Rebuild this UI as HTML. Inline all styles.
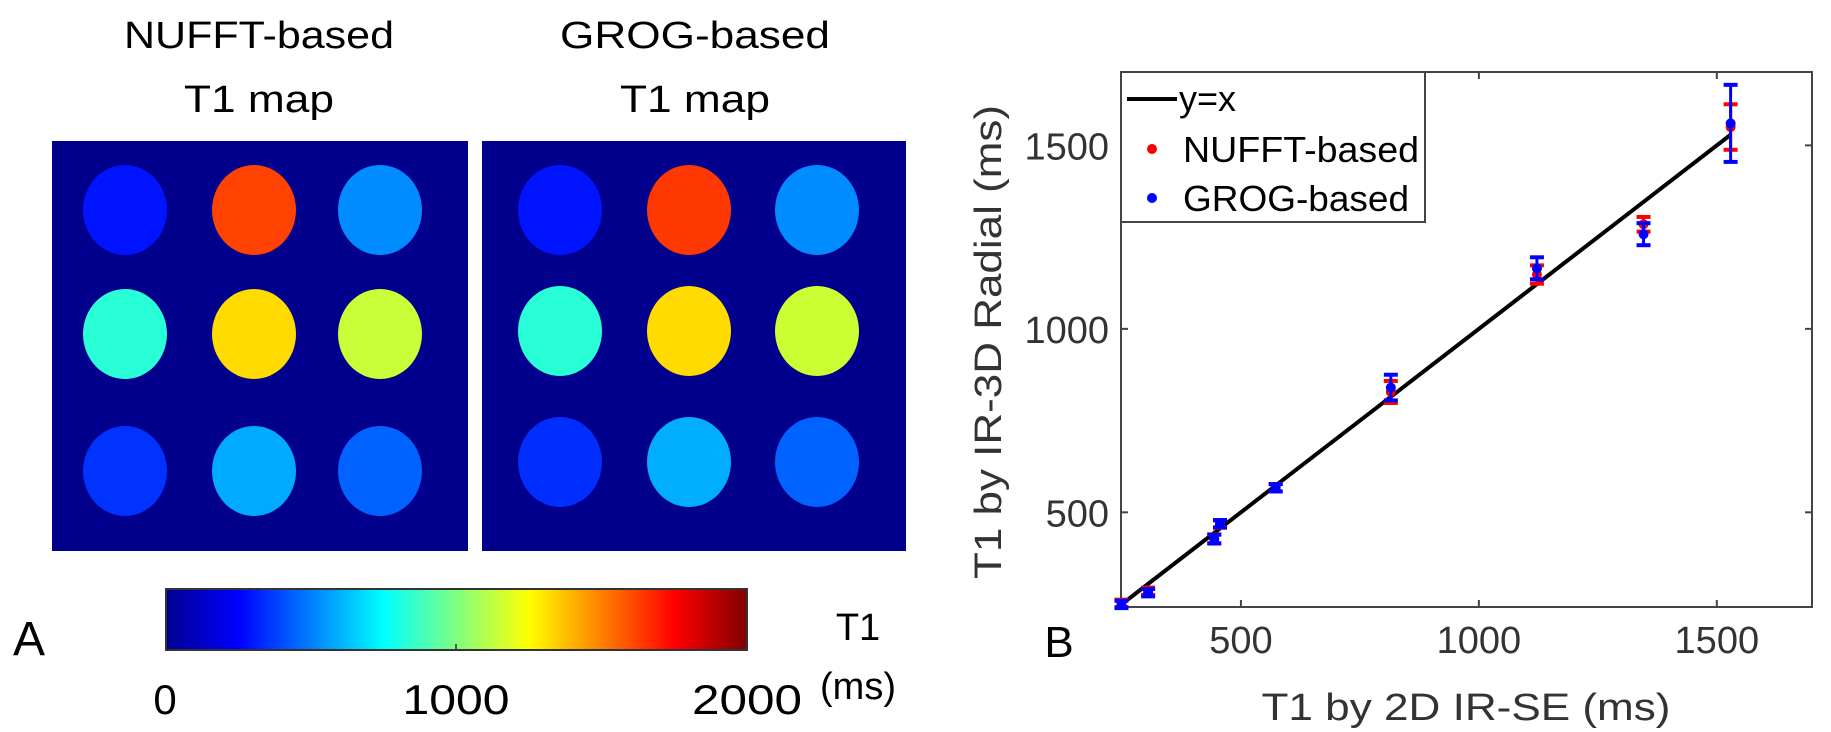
<!DOCTYPE html>
<html><head><meta charset="utf-8">
<style>
body{margin:0;background:#fff;}
svg{display:block;font-family:"Liberation Sans",sans-serif;}
</style></head>
<body>
<svg id="fig" width="1831" height="732" viewBox="0 0 1831 732">
<defs>
<linearGradient id="jet" x1="0" x2="1" y1="0" y2="0">
<stop offset="0" stop-color="#00008f"/>
<stop offset="0.125" stop-color="#0000ff"/>
<stop offset="0.375" stop-color="#00ffff"/>
<stop offset="0.625" stop-color="#ffff00"/>
<stop offset="0.875" stop-color="#ff0000"/>
<stop offset="1" stop-color="#800000"/>
</linearGradient>
</defs>
<g>
<text x="259" y="48" font-size="38" text-anchor="middle" textLength="270" lengthAdjust="spacingAndGlyphs">NUFFT-based</text>
<text x="259" y="112" font-size="38" text-anchor="middle" textLength="150" lengthAdjust="spacingAndGlyphs">T1 map</text>
<text x="695" y="48" font-size="38" text-anchor="middle" textLength="270" lengthAdjust="spacingAndGlyphs">GROG-based</text>
<text x="695" y="112" font-size="38" text-anchor="middle" textLength="150" lengthAdjust="spacingAndGlyphs">T1 map</text>
<g id="maps"></g>
<rect x="166" y="589" width="581" height="61" fill="url(#jet)" stroke="#333" stroke-width="2"/>
<line x1="456" y1="650" x2="456" y2="644" stroke="#333" stroke-width="1.5"/>
<text x="165" y="714" font-size="42" text-anchor="middle">0</text>
<text x="456" y="714" font-size="42" text-anchor="middle" textLength="107" lengthAdjust="spacingAndGlyphs">1000</text>
<text x="747" y="714" font-size="42" text-anchor="middle" textLength="110" lengthAdjust="spacingAndGlyphs">2000</text>
<text x="858" y="640" font-size="38" text-anchor="middle">T1</text>
<text x="858" y="699" font-size="38" text-anchor="middle">(ms)</text>
<text x="29" y="655" font-size="48" text-anchor="middle">A</text>
</g>
<g>
<text x="1059" y="657" font-size="44" text-anchor="middle">B</text>
<g id="plot"></g>
</g>
</svg>
<script>
const NS="http://www.w3.org/2000/svg";
function mk(tag,attrs,parent){const e=document.createElementNS(NS,tag);for(const k in attrs)e.setAttribute(k,attrs[k]);parent.appendChild(e);return e;}

// Phantom T1 maps (ms)
const nufftT1=[[290,1620,525],[830,1320,1140],[350,585,445]];
const grogT1=[[290,1640,525],[830,1320,1150],[340,590,445]];
function jet(v){const t=Math.max(0,Math.min(1,v/2000));
 const f=x=>Math.max(0,Math.min(1,x));
 const r=f(Math.min(4*t-1.5,-4*t+4.5)),g=f(Math.min(4*t-0.5,-4*t+3.5)),b=f(Math.min(4*t+0.5,-4*t+2.5));
 return `rgb(${Math.round(r*255)},${Math.round(g*255)},${Math.round(b*255)})`;}
const maps=document.getElementById('maps');
const mapDefs=[{x:52,w:416,cx:[125,254,380],cy:[210,334,471],d:nufftT1,n:'nufft'},{x:482,w:424,cx:[560,689,817],cy:[210,331,462],d:grogT1,n:'grog'}];
mapDefs.forEach(m=>{
 const g=mk('g',{},maps);
 
 
 const bg=mk('rect',{x:m.x,y:141,width:m.w,height:410,fill:'#00008c'},g);
 
 
 m.d.forEach((row,ri)=>row.forEach((v,ci)=>{
  const c=mk('ellipse',{cx:m.cx[ci],cy:m.cy[ri],rx:42,ry:45,fill:jet(v)},g);
  
  
 }));
});

// Scatter plot data
const refT1=[249,305,444,456,573,815,1122,1346,1529];
const nufftVals=[252,285,428,468,567,828,1148,1285,1550];
const grogVals=[249,281,427,469,567,840,1165,1258,1560];
const nufftErr=[10,10,12,10,10,30,25,20,62];
const grogErr=[10,10,12,10,10,35,30,30,105];
const xTicks=[500,1000,1500];
const yTicks=[500,1000,1500];
const X0=1121,X1=1812,Y0=607,Y1=72,xmin=248,xmax=1700,ymin=242,ymax=1700;
const sx=v=>X0+(v-xmin)/(xmax-xmin)*(X1-X0);
const sy=v=>Y0-(v-ymin)/(ymax-ymin)*(Y0-Y1);
const P=document.getElementById('plot');
const ax=mk('rect',{x:X0,y:Y1,width:X1-X0,height:Y0-Y1,fill:'none',stroke:'#444','stroke-width':2},P);


xTicks.forEach(t=>{
 mk('line',{x1:sx(t),x2:sx(t),y1:Y0,y2:Y0-7,stroke:'#444','stroke-width':2},P);
 mk('line',{x1:sx(t),x2:sx(t),y1:Y1,y2:Y1+7,stroke:'#444','stroke-width':2},P);
 const l=mk('text',{x:sx(t),y:Y0+46,'font-size':38,'text-anchor':'middle',fill:'#333'},P);
 l.textContent=t;
 
 
});
yTicks.forEach(t=>{
 mk('line',{x1:X0,x2:X0+7,y1:sy(t),y2:sy(t),stroke:'#444','stroke-width':2},P);
 mk('line',{x1:X1,x2:X1-7,y1:sy(t),y2:sy(t),stroke:'#444','stroke-width':2},P);
 const l=mk('text',{x:X0-12,y:sy(t)+14,'font-size':38,'text-anchor':'end',fill:'#333'},P);
 l.textContent=t;
 
 
});
const xl=mk('text',{x:1466,y:720,'font-size':38,'text-anchor':'middle',fill:'#333',textLength:409,lengthAdjust:'spacingAndGlyphs'},P);
xl.textContent='T1 by 2D IR-SE (ms)';


const yl=mk('text',{x:0,y:0,'font-size':38,'text-anchor':'middle',fill:'#333',textLength:474,lengthAdjust:'spacingAndGlyphs',transform:'translate(1001,342) rotate(-90)'},P);
yl.textContent='T1 by IR-3D Radial (ms)';


const idl=mk('line',{x1:sx(refT1[0]),y1:sy(refT1[0]),x2:sx(refT1[refT1.length-1]),y2:sy(refT1[refT1.length-1]),stroke:'#000','stroke-width':4},P);


function series(vals,errs,color,name){
 const g=mk('g',{},P);
 
 
 refT1.forEach((x,i)=>{
  const px=sx(x),lo=sy(vals[i]-errs[i]),hi=sy(vals[i]+errs[i]);
  mk('line',{x1:px,x2:px,y1:lo,y2:hi,stroke:color,'stroke-width':3},g);
  mk('line',{x1:px-7,x2:px+7,y1:lo,y2:lo,stroke:color,'stroke-width':4},g);
  mk('line',{x1:px-7,x2:px+7,y1:hi,y2:hi,stroke:color,'stroke-width':4},g);
  const d=mk('circle',{cx:px,cy:sy(vals[i]),r:5,fill:color},g);
  
  
 });
}
series(nufftVals,nufftErr,'#ff0000','nufft');
series(grogVals,grogErr,'#0000ff','grog');
// legend
const lg=mk('g',{},P);


mk('rect',{x:1121,y:72,width:304,height:150,fill:'#fff',stroke:'#444','stroke-width':2},lg);
mk('line',{x1:1127,x2:1177,y1:99,y2:99,stroke:'#000','stroke-width':4},lg);
const t1=mk('text',{x:1179,y:111,'font-size':36},lg);t1.textContent='y=x';


mk('circle',{cx:1152,cy:149,r:5,fill:'#ff0000'},lg);
const t2=mk('text',{x:1183,y:162,'font-size':36,textLength:236,lengthAdjust:'spacingAndGlyphs'},lg);t2.textContent='NUFFT-based';


mk('circle',{cx:1152,cy:198,r:5,fill:'#0000ff'},lg);
const t3=mk('text',{x:1183,y:211,'font-size':36,textLength:226,lengthAdjust:'spacingAndGlyphs'},lg);t3.textContent='GROG-based';


</script>
</body></html>
